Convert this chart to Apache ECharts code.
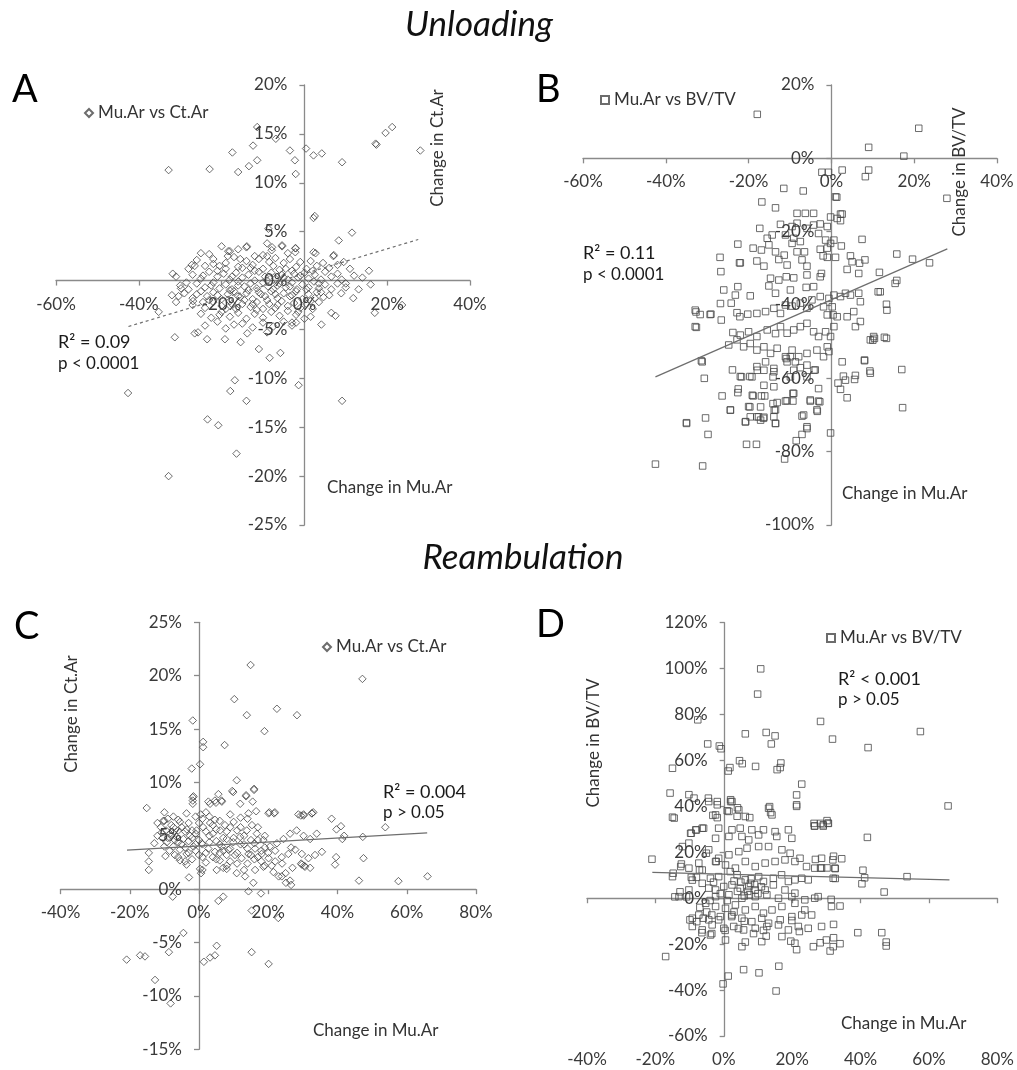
<!DOCTYPE html>
<html><head><meta charset="utf-8">
<script src="https://cdn.jsdelivr.net/npm/echarts@6/dist/echarts.min.js"></script>
<style>html,body{margin:0;padding:0;background:#fff}#c{width:1017px;height:1070px}</style>
</head><body><div id="c"></div>
<script>
// ---------- DATA (percent change) ----------
// Panel A: Unloading, Mu.Ar vs Ct.Ar
const unloadCtAr = [
[-32.8,11.3],[-22.9,11.4],[-17.4,13.1],[-16,11.1],[-13.4,11.7],[-12.4,13.8],[-11.4,12.3],[-11.4,15.7],[-6.9,14.5],[-3.5,13.3],[-2.3,12.3],[-2.1,10.9],[0.4,13.5],[2.2,12.8],[4.2,13.0],[9.1,12.1],[17.2,14.0],[17.4,13.9],[19.6,15.1],[21.2,15.7],[28,13.3],[2.2,6.4],[2.5,6.6],[11.5,4.9],[8.3,4.1],[7,2.5],[2.2,2.9],[-2.2,2.9],[-2.1,3.3],[-5.4,3.6],[-7.9,3.1],[-8.7,5.3],[-14,3.4],[-18.4,3.0],[-27.2,1.6],[-31.8,0.7],[15.6,1.0],[16,-0.4],[13.1,-0.9],[11.8,-1.8],
[-42.6,-11.5],[-32.8,-20.0],[-31.3,-5.8],[-26.5,-5.4],[-25.7,-5.3],[-23.5,-6],[-19.2,-6],[-15.4,-6.3],[-13.8,-5.4],[-11,-7],[-8.4,-7.9],[-5.8,-7.4],[-16.8,-10.2],[-17.9,-11.3],[-14,-12.3],[-23.4,-14.2],[-20.8,-14.8],[-16.4,-17.7],[-1.4,-10.7],[9.1,-12.3],[4.1,-4.5],[-2,-4.3],[-3,-4.3],[17,-3.3],[23.6,-2.5],[6.5,-3.3],[7.5,-3.6],[1.5,-3.7],[-26.9,-2.1],[-29.8,-0.8],[-30.4,-1.6],[-32,-1.5],[-31,-2.2],[-35.2,-3.2],[3,-1.2],[4.6,-1.7],[8.9,-1.3],[10,-0.3],
[-25,2.8],[-20,3.5],[-16,3.2],[-13.9,3.5],[-10,2.6],[-7.8,3.4],[-5.4,3.5],[-2.2,3.3],[-18,3.0],[2.7,2.8],[7.1,2.6],[-12,2.5],[-4,2.8],[-9,3.8],
[-28,1.2],[-26,2.1],[-24,1.5],[-22,2.2],[-21,1.0],[-19,1.8],[-17,2.4],[-15,1.3],[-14,2.0],[-12.5,1.6],[-11,2.2],[-10,1.2],[-8.5,1.9],[-7,2.3],[-6,1.1],[-5,1.8],[-3.5,2.2],[-2,1.4],[-1,1.9],[0.5,1.2],[1.5,2.0],[3,1.5],[4.5,1.8],[6,1.3],[8,1.6],[9.5,1.9],[11,1.2],[-23,2.7],[-16,1.4],[-9,2.5],[-3,1.0],
[-31,0.4],[-27,0.6],[-25,0.2],[-23,0.9],[-21,0.4],[-19.5,0.7],[-18,0.1],[-16.5,0.8],[-15,0.3],[-13.5,0.6],[-12,0.0],[-11,0.9],[-9.5,0.4],[-8,0.8],[-7,0.2],[-5.5,0.6],[-4,0.1],[-2.5,0.7],[-1.5,0.3],[0,0.8],[1,0.2],[2.5,0.6],[4,0.1],[5,0.9],[6.5,0.4],[8,0.7],[9,0.1],[12,0.5],[14,0.3],
[-30,-0.5],[-28,-0.9],[-26,-0.3],[-24,-0.7],[-22,-0.2],[-20.5,-0.8],[-19,-0.4],[-17.5,-0.9],[-16,-0.1],[-14.5,-0.6],[-13,-0.3],[-11.5,-0.8],[-10,-0.2],[-8.8,-0.6],[-7.5,-0.9],[-6,-0.3],[-4.5,-0.7],[-3,-0.2],[-1.8,-0.9],[-0.5,-0.4],[1,-0.7],[2.3,-0.1],[3.5,-0.8],[5,-0.4],[6.5,-0.9],[8,-0.3],[10,-0.7],
[-29,-1.3],[-27,-1.8],[-25,-1.1],[-23.5,-1.6],[-22,-1.2],[-20,-1.9],[-18.5,-1.4],[-17,-1.1],[-15.5,-1.7],[-14,-1.3],[-12.5,-1.9],[-11,-1.2],[-9.5,-1.6],[-8,-1.1],[-6.5,-1.8],[-5,-1.3],[-3.5,-1.6],[-2,-1.1],[-0.5,-1.9],[1,-1.4],[2.5,-1.8],[4,-1.2],[6,-1.5],[-21,-1.5],[-16,-1.6],
[-27,-2.5],[-24,-2.8],[-22,-2.2],[-20,-2.6],[-18,-2.1],[-16.5,-2.9],[-15,-2.4],[-13,-2.7],[-11.5,-2.2],[-10,-2.9],[-8.5,-2.4],[-7,-2.8],[-5.5,-2.1],[-4,-2.6],[-2.5,-2.3],[-1,-2.8],[0.5,-2.4],[2,-2.9],[3.5,-2.2],[-19,-2.9],
[-25,-3.4],[-22.5,-3.8],[-20,-3.2],[-18,-3.7],[-16,-3.3],[-14,-3.9],[-12,-3.4],[-10,-3.8],[-8,-3.2],[-6,-3.6],[-4,-3.1],[-2,-3.5],[0,-3.9],[-21,-4.2],[-17,-4.5],
[-24,-4.6],[-19,-4.9],[-15,-4.4],[-12.5,-4.8],[-10,-4.3],[-7.5,-4.7],[-5,-4.2],[-3,-4.6],[-9,-5.3],
[-26.5,1.5],[-24.5,0.5],[-22.5,-0.5],[-20.5,1.5],[-18.5,2.5],[-17.5,0.4],[-15.5,2.2],[-13.5,-1.0],[-12,1.0],[-10.5,-1.4],[-9,0.0],[-7.5,1.5],[-6.5,-0.5],[-4.5,1.2],[-3.5,-0.6],[-1,0.5],[0.5,-0.9],[2,1.0],[3.5,-0.3],[-28.5,-0.2],[-26,-1.4],[-23,-2.0],[-20.5,-3.5],[-17.5,-2.4],[-14.5,-2.0],[-11.5,-3.0],[-9,-2.0],[-6.5,-2.5],[-3,-1.5],[-1.5,-3.2],[1.5,-2.1],[-19,1.2],[-16,-0.5],[-13,1.3],[-22,1.7],[-7,-1.4],[-5,0.3],[-12.5,-2.4],[-24.5,-2.2],[-18,-1.0]
];
const unloadCtArTrend = [[-42.5,-4.7],[27.5,4.2]];

// Panel B: Unloading, Mu.Ar vs BV/TV
const unloadBvTv = [
[-17.9,12],[21.1,8.2],[9,3],[17.5,0.6],[-2.3,-3.8],[-0.7,-3.8],[2.6,-3.2],[9,-3.2],[8.2,-5],[-11.5,-8.2],[-6.8,-8.9],[1,-10.5],[1.3,-10.6],[27.9,-10.9],[-16.8,-11.9],[-13.5,-13.5],[-8.3,-15],[-6.3,-15],[-4.3,-15],[2.2,-15.2],[-0.2,-16],[-17.3,-19.1],[-22.6,-23.4],[7.4,-22.1],[15.8,-26.1],[19.6,-27.5],[23.7,-28.5],[11.6,-31.1],[15.8,-33.3],[-26.9,-27],[-26.7,-30.9],[-22.2,-28.5],
[-42.5,-83.4],[-31.1,-83.9],[-35,-72.3],[-29.8,-75.3],[-30.4,-70.8],[-20.5,-78],[-18.1,-78],[-11.3,-82],[-8.5,-77],[-7.1,-75.3],[-5.9,-73.7],[-0.2,-74.9],[17.2,-68],[17,-57.6],[13.3,-49.1],[10.4,-49.1],[10.0,-49.6],[13.3,-39.8],[15.4,-34.1],[11.3,-36.4],[8,-55.2],[5.8,-59.2],[9.3,-58],[3.8,-65.3],[2.2,-63],[1.6,-61.3],[2.9,-59.4],[-31.4,-55.2],[-30.7,-60],[-32.6,-46.1],[-32.7,-41.9],[-29.3,-42.6],[-31.7,-42.6],[-26.8,-39.6],
[-26.4,-64.8],[-22.5,-62.9],[-24.4,-68.7],[-19.7,-67.8],[-17.1,-67.8],[-19.1,-64.6],[-16.1,-64.8],[-20.8,-71.9],[-19.6,-70.5],[-17.6,-70.5],[-16.4,-70.9],[-13.5,-72.3],[-13.9,-70.5],[-13.8,-68.7],[-14.1,-66.9],[-11.1,-66.2],[-9.3,-66.2],[-9.1,-64.1],[-5.1,-66.2],[-3.1,-66.2],[-3.4,-69],[-7.1,-70.3],[-3.1,-62.8],
[-16.3,-61.9],[-19.2,-59.6],[-21.7,-59.6],[-14.1,-59.6],[-9.9,-59.6],[-9.1,-57.8],[-5.9,-59.6],[-4.2,-57.8],[-7.5,-57.1],[-10.9,-54.6],[-9.9,-54.1],[-13.9,-57.3],[-16.3,-57.8],[-17.9,-57.8],
[2.6,-15.2],[1.4,-16.4],[2.2,-17],[-12.3,-18],[-9.5,-18.6],[-8.3,-17.7],[-5.9,-19.1],[-4.3,-18.2],[-2.7,-17.9],[-1,-18.6],[-15.5,-21.8],[-14.3,-20.9],[-11.1,-20.9],[-9.1,-21.8],[-7.5,-22.7],[-9.5,-23.2],[-3.1,-20.5],[-1.4,-22.3],[-0.2,-23.2],[0.6,-22.3],[2.4,-23.9],[-1,-24.5],
[-18.9,-24.5],[-16.9,-25],[-15.1,-23.6],[-13.5,-25.5],[-12.7,-27.6],[-11.4,-26.4],[-10.7,-29.1],[-8.3,-25.5],[-6.5,-25.5],[-7.1,-27.7],[-5.9,-29.4],[-2.7,-24.8],[-2,-26.6],[-1,-27],[1,-27],[-22,-28.5],[-18,-28],[-16.3,-29.4],
[4.6,-26.6],[5,-28.2],[8.1,-27.7],[6.8,-28.6],[3.8,-30.3],[6.6,-31.4],
[-14.7,-32.7],[-12.7,-33.2],[-10.9,-32.3],[-9.1,-32.6],[-5.9,-31.8],[-2.7,-32.3],[-4.3,-35],[-2.4,-31.4],[-15.1,-34.8],[-13.5,-36.8],[-9.9,-35.9],[-6.1,-35.2],
[-19.6,-37.5],[-22.6,-35],[-23.2,-37.3],[-26,-35.9],[-24.2,-39.5],[-22.8,-42.1],[-22.1,-43.2],[-20.2,-42.5],[-18,-42.3],[-15.9,-41.8],[-13.9,-40.9],[-12.3,-42.3],[-11.1,-40],[-9.5,-40.3],[-7.5,-39.5],[-5.9,-40.9],[-4.7,-38.6],
[-2.7,-37.7],[-0.6,-38.2],[0.6,-37.3],[2.2,-37.7],[3.4,-36.8],[4.6,-37.3],[-1,-42.7],[0.4,-42.7],[1.4,-43.2],[-1.9,-40.5],[0.2,-40.5],
[6.6,-36.8],[7,-39.1],[5.4,-41.8],[3.8,-43.2],[7,-44.5],[5.8,-45.9],[9.4,-49.5],[10.2,-48.6],[12.8,-48.8],[13.4,-41.4],[11.8,-36.4],
[-32.9,-41.4],[-29.1,-42.5],[-32.9,-45.9],[-26.6,-44.1],[-23.8,-47.5],[-22,-48.2],[-20,-47.3],[-18,-48.6],[-15.5,-46.8],[-13.5,-47.8],
[-12.3,-45.9],[-10.7,-47.7],[-9.1,-46.8],[-7.5,-45.9],[-5.9,-45],[-4.3,-47.3],[-3.1,-48.6],[-1.4,-47.3],[-0.2,-48.6],[0.6,-45.9],[-1,-51.4],
[-24.8,-50.9],[-22.8,-49.5],[-21.2,-51.4],[-19.6,-50.5],[-18,-52.3],[-16.3,-51.4],[-14.7,-53.2],[-13.1,-51.8],[-11.1,-54.1],[-9.5,-52.3],[-7.9,-54.1],[-5.9,-53.2],[-3.5,-52.3],[-1.9,-54.1],[-0.6,-52.7],
[-31.2,-55.5],[-23.9,-57.7],[-22,-59.5],[-19.7,-59.5],[-18,-56.8],[-15.9,-55.5],[-13.9,-58.2],[-10.7,-55.5],[-8.7,-55.5],[-5.9,-56.4],[-3.9,-57.7],
[2.6,-55.5],[3.4,-60.5],[5.6,-60.3],[8,-55],[9.4,-58.6],
[-22.6,-63.9],[-18.9,-64.8],[-16.9,-64.8],[-13.9,-62.3],[-13.1,-66.6],[-10.7,-66.1],[-9.3,-64.1],[-5.1,-65.9],[-2.8,-66.4],
[-24.4,-68.6],[-20,-67.7],[-18,-70.5],[-16.3,-70.6],[-13.5,-68.6],[-6.7,-70],[-3.5,-68.6],[-5.9,-73.2],[-13.5,-72.3],[-17.1,-71.4],[-20.7,-71.8],[-35,-72.1]
];
const unloadBvTvTrend = [[-42.5,-59.6],[28,-24.7]];

// Panel C: Reambulation, Mu.Ar vs Ct.Ar
const reambCtAr = [
[14.9,21],[47.2,19.7],[10.2,17.8],[22.5,16.9],[13.8,16.3],[28.3,16.3],[-1.8,15.8],[18.9,14.8],[1.2,13.8],[1.2,13.3],[7.4,13.5],[-2.1,11.3],[0.3,11.7],[10.9,10.2],[-1.8,8.6],[-1.8,8.3],[5.6,8.9],[2.7,8.2],[4.6,8.3],[6.5,8.3],[9.6,9.2],[13.6,8.7],[15.9,9.3],[15.5,8.2],[-15.1,7.6],[-10,7.2],[-10,6.4],[20.3,7.2],[21.9,7.2],[29.4,6.9],[30.2,6.9],[33,7.2],[38.3,6.6],[41,5.9],
[-12.9,4.3],[-14.5,3.4],[-14.5,2.6],[-14.5,1.8],[-9.7,3.1],[39.6,3.0],[39.3,2.3],[47.5,2.9],[46.2,0.8],[57.6,0.75],[66,1.2],[53.8,5.8],[47.3,4.9],[39.7,5.6],[41.9,5.0],[41.4,4.7],[32.6,7.1],[30.4,2.2],[30.6,2.1],[29.5,2.4],[26.6,3.9],[26.6,0.4],[25.1,0.6],[23,1.2],[17.9,-0.4],[14.3,-0.2],[15.7,0.6],[7,-0.7],[5.6,-1.1],[-7.6,-0.7],[22.9,-2.7],[15.2,-2.0],[-4.5,-4.1],[-8.7,-5.9],[-20.9,-6.6],[-17,-6.2],[-15.6,-6.3],[-12.7,-8.5],[-8.2,-10.7],[1.4,-6.8],[3.2,-6.4],[4.6,-6.2],[5.1,-5.3],[15.2,-5.9],[20.1,-7.0],[0.6,1.5],[1.0,1.8],[-2.9,1.1],
[-10.3,6.4],[-7.4,6.8],[-9.5,5.5],[-7.4,5.8],[-5.5,6.3],[-3.6,7.1],[-1.6,8.7],[-1.8,8.0],[0.5,7.0],[3.2,8.0],[4.9,8.1],[6.6,8.2],[9.9,9.1],[13.6,8.8],[15.9,9.4],[11.9,8.0],[14.3,7.1],[16.5,7.3],[20.1,7.1],[21.7,7.1],[28.7,7.0],[30.2,7.0],[32.6,7.1],
[-10.8,5.3],[-8.4,5.2],[-6.5,4.9],[-4.5,4.7],[-2.6,5.0],[-0.7,5.5],[1.2,5.8],[3.2,6.2],[4.6,6.5],[6.1,5.5],[8,4.7],[9.9,4.4],[11.9,4.9],[13.8,5.5],[15.3,6.0],[16.7,5.2],[18.6,4.6],[20.5,4.0],[22.5,4.3],[24.4,4.7],[26.3,5.2],[28.2,5.5],[30.2,5.0],[32.1,4.7],[34,5.2],
[-9.3,4.4],[-7.4,4.0],[-5.5,3.7],[-3.6,3.3],[-1.6,4.0],[0.8,4.3],[2.7,3.8],[4.6,3.5],[6.6,4.0],[8.5,3.7],[10.4,3.2],[12.3,2.9],[14.3,3.3],[16.2,3.8],[18.1,3.3],[20.1,2.9],[22,2.6],[23.9,3.0],[25.8,3.3],[27.8,3.7],[29.7,3.3],[31.6,2.9],[33.5,3.2],[35.5,3.5],
[-5.5,2.7],[-3.6,2.3],[0.3,1.9],[5.1,1.8],[8,1.9],[10.9,1.5],[13.3,1.2],[16.2,1.8],[18.6,2.1],[21.5,1.6],[23.9,1.2],[26.3,0.8],[29.7,2.3],[32.1,2.0],
[-8,6.0],[-6,6.5],[-5,5.8],[-3,6.2],[-2,5.5],[-1,6.8],[0,6.2],[1,6.6],[2,7.2],[3,5.0],[4,5.2],[5,4.5],[6,4.2],[7,3.6],[8,3.2],[9,5.8],[10,6.3],[11,5.5],[12,6.7],[13,4.2],[14,3.8],[15,4.6],[16,4.3],[17,3.0],[18,2.6],[19,3.9],[-7,3.2],[-4,3.9],[-2,2.8],[1,3.0],[2,2.5],[4,3.0],[6,2.7],[8,2.2],[-9,4.8],[-6,4.4],[-3,4.5],[-1,3.6],
[-12,6.2],[-11,5.8],[-9,6.6],[-8,5.0],[-7,4.6],[-6,5.5],[-5,4.2],[-4,5.4],[-3,3.4],[-2,4.8],[-1,5.2],[0,4.6],[1,4.2],[2,5.4],[3,4.4],[4,6.0],[5,5.6],[6,3.4],[7,4.8],[8,5.4],[9,3.8],[10,4.8],[11,3.4],[12,4.2],[13,5.0],[14,2.4],[15,3.2],[16,2.8],[17,4.6],[18,3.6],[19,2.2],[20,3.4],[21,2.2],[22,3.6],[-10,4.0],[-8.5,3.6],[-6,3.0],[-4,2.6],[0,3.2],[2,3.4],[5,2.8],[7,2.0],[9,2.6],[11,2.4],[13,1.8],[-12,5.0],[-1,4.2],[3,6.8],[6,6.4],[9,7.0],[12,5.8],[14,6.6],[17,5.8],[19,5.0],[24,2.4],[25,1.5],[27,2.0],[-10.5,4.8],[-3.5,5.6],[7.5,6.0]
];
const reambCtArTrend = [[-20.8,3.65],[65.9,5.27]];

// Panel D: Reambulation, Mu.Ar vs BV/TV
const reambBvTv = [
[10.8,99.9],[9.9,88.9],[-7.6,77.7],[28.3,77],[57.5,72.6],[31.8,69.3],[42.2,65.6],[6.3,71.6],[12.4,72.2],[15,70.7],[13.9,67.2],[-4.7,67.2],[-1.3,66.3],[-0.8,65.1],[-15,56.6],[4.6,59.9],[5.4,58.6],[1.8,56.9],[1.3,55.4],[9.3,57.4],[16.7,58.9],[16.5,56.9],[15.6,56],[22.8,49.7],
[-15.7,45.8],[-10.2,45.1],[-8.7,43.6],[-4.5,43.6],[-1.9,42.1],[2,42.9],[2,42.1],[4,39.4],[3.9,35.7],[7.6,35.1],[13.4,39.9],[13.7,37.3],[21.3,45],[21.3,40.7],[26.4,32.6],[28.3,32.6],[30.2,33.8],[65.6,40.2],[-15,35.3],[-3.2,36.1],[-1.9,35.1],[1,38.1],
[-21,17],[-17,-25.4],[-0.2,-37.3],[1.3,-33.9],[5.8,-31.1],[10.3,-32.5],[16.1,-29.6],[15.3,-40.4],[42,26.5],[46.9,2.7],[39.2,-15],[46.2,-15],[47.5,-19.1],[47.5,-20.8],[53.6,9.4],[40.7,12.2],[41.2,8.9],[40.4,6.3],[32.6,8.6],
[28.2,-19.4],[31.1,-23],[32.1,-17.2],[34,-19.8],[32.1,-11.4],[31.4,-0.5],[21.3,-22.4],[19.6,-18.7],[22.1,-14.5],[19.9,-9.7],[6.3,-19.1],[12.4,-16.5],
[-3.5,-15.4],[-6.4,-15],[0.4,-14],[4.3,-13.2],[8.7,-15.4],[11.6,-14],[-9.9,-9.4],[-7.9,-10.2],[-6,-8.7],[-3.5,-7.3],[-1.5,-9.4],[2.3,-8],
[-12.8,2.8],[-14.3,0.6],[-10.9,0.6],[-14.8,10.9],[-12.4,14.9],[-9.5,9.1],[-8,9.1],[-9.5,28.3],[-8,29.7],[-5.9,30.5],[-7.1,12.3],[-5.1,19.6],[-2.2,16],
[26.5,31.4],[29.1,31.4],[30.6,32.6],[32.1,18.3],[34.5,17.2],[26.8,16.9],[28.3,13.2],[30.2,13.2],[32.6,12.9],[34,-3.4],
[-4.4,42.1],[-1.9,40.7],[2.4,42.1],[1.5,37.8],[4.4,38.5],[6.3,35.6],[13.1,39.2],[14.1,36.3],[21.3,40],[-14.5,34.9],[-2.4,36.3],
[-8.2,29.8],[-6.3,30.5],[-9.7,28.3],[-1.5,30.5],[2.4,29.8],[4.8,30.5],[8.2,29.8],[11.6,29.8],[15,29],[18.9,29.8],[26.6,31.5],[29.1,32],[30.5,32.7],[-10.2,24],[-2.4,26.1],[1.5,26.9],[5.3,26.9],[7.3,25.4],[10.2,27.6],[15.5,26.9],[19.9,26.1],
[-12.1,22.5],[-4.4,21.1],[-2.4,16],[-1.5,17.4],[1.5,18.9],[4.4,20.3],[6.8,21.8],[10.2,22.5],[13.1,22.5],[17,21.1],[19.4,19.6],[22.3,17.4],[-7.3,15.3],[-10.2,13.1],[-6.3,12.3],[0.5,14.5],[3.4,13.1],[6.3,16],[9.2,13.8],[12.1,15.3],[15,16],[17.9,16.7],[20.8,16],[24.2,13.8],[28.6,17.4],[31.9,16.7],[26.6,13.1],[28.6,13.1],[32.5,13.1],[-12.6,13.8],[-15,9.4],[-9.2,7.9],
[-3.9,8.7],[-1.5,9.4],[1.9,11.6],[3.9,10.2],[6.3,8],[7.8,6.5],[10.2,9.4],[11.6,7.3],[14.5,8.7],[16.9,10.2],[18.9,7.3],[20.8,8],[22.8,8.7],[24.7,8],[32,8.7],[-6.3,6.5],[-4.4,4.4],[-2.4,3.6],[0,5.1],[2.4,5.8],[4.8,4.4],[7.3,5.1],[9.2,3.6],[12.1,3.6],[14.5,5.8],[17.9,3.6],[20.8,2.2],[-2.4,0.7],[1.5,1.5],[5.3,0],[9.2,0.7],[12.6,1.5],[16,0],[19.9,0.7],[23.7,-0.7],[27.6,0.7],[-10.2,3.6],[-13.1,0.7],
[-5.3,-2.2],[-2.4,-3.6],[0.5,-4.4],[3.4,-2.9],[6.3,-5.1],[9.2,-3.6],[11.6,-6.5],[14.1,-5.1],[17,-3.6],[20.8,-2.2],[23.7,-5.1],[26.6,0],[31.5,-3.6],[-9.2,-8.7],[-7.3,-7.3],[-4.4,-9.4],[-1,-8],[2.4,-7.3],[5.3,-8.7],[8.2,-10.2],[11.1,-8.7],[13.1,-10.9],[16.5,-9.4],[19.9,-8],[22.8,-7.3],[25.7,-7.3],
[-9.2,-12.3],[-6.3,-13.8],[-3.4,-11.6],[0,-13.1],[2.9,-12.3],[5.8,-13.8],[9.2,-13.1],[12.6,-12.3],[16,-11.6],[18.9,-13.8],[21.8,-12.3],[24.7,-13.1],[28.6,-12.3],
[-3.9,-16],[0.5,-18.2],[5.3,-21.1],[11.1,-18.9],[17,-16.7],[20.8,-19.6],[26.2,-21.1],[30,-18.2],[32,-21.1],
[5,7],[7,3],[8,8.5],[9,6],[10,2],[11,5],[6,1],[4,3],[3,7.5],[7.5,1.5],[-1,2],[-3,7],[1,-1],[3,-6],[6,-10],[-5,-6],[-7,-4],[-4,-1]
];
const reambBvTvTrend = [[-20.9,11.3],[66,8]];

// axis ranges [min, max, interval]
const xRangeUnload = [-60, 40, 20];
const yRangeA = [-25, 20, 5];
const yRangeB = [-100, 20, 20];
const xRangeReamb = [-40, 80, 20];
const yRangeC = [-15, 25, 5];
const yRangeD = [-60, 120, 20];

const seriesNameCt = 'Mu.Ar vs Ct.Ar';
const seriesNameBv = 'Mu.Ar vs BV/TV';

// ---------- STYLE / LAYOUT ----------
const FONT = 'Lato, "Open Sans", "DejaVu Sans", sans-serif';
const AXC = '#8a8a8a', LBL = '#3a3a3a', TXT = '#1a1a1a';
const pct = v => v + '%';

const grids = [
  { left: 56, top: 85, width: 414, height: 440 },
  { left: 583, top: 85, width: 414, height: 440 },
  { left: 60.5, top: 622.3, width: 415.5, height: 427 },
  { left: 587, top: 622.7, width: 413, height: 413.3 }
];
// shift so that each axis (line, ticks and labels) crosses the other at zero
const zeroShift = (len, r) => -len * (0 - r[0]) / (r[1] - r[0]);

function valAxis(gridIndex, r, extra) {
  return Object.assign({
    type: 'value', gridIndex, min: r[0], max: r[1], interval: r[2],
    axisLine: { show: true, onZero: false, lineStyle: { color: AXC, width: 1.3 } },
    axisTick: { show: true, length: 5, lineStyle: { color: AXC, width: 1.3 } },
    axisLabel: { formatter: pct, color: LBL, fontFamily: FONT, fontSize: 17, margin: 15 },
    splitLine: { show: false }
  }, extra || {});
}
function xAx(g, r, yr, extra) {
  return valAxis(g, r, Object.assign({ position: 'bottom',
    offset: zeroShift(grids[g].height, yr) }, extra || {}));
}
function yAx(g, r, xr) {
  return valAxis(g, r, { position: 'left', offset: zeroShift(grids[g].width, xr),
    axisLabel: { formatter: pct, color: LBL, fontFamily: FONT, fontSize: 17, margin: 17 } });
}

const xAxes = [
  xAx(0, xRangeUnload, yRangeA),
  xAx(1, xRangeUnload, yRangeB),
  xAx(2, xRangeReamb, yRangeC),
  xAx(3, xRangeReamb, yRangeD, { axisLabel: { show: false } }),
  valAxis(3, xRangeReamb, {
    position: 'bottom', offset: 0,
    axisLine: { show: false, onZero: false },
    axisTick: { show: false }
  })
];
const yAxes = [
  yAx(0, yRangeA, xRangeUnload),
  yAx(1, yRangeB, xRangeUnload),
  yAx(2, yRangeC, xRangeReamb),
  yAx(3, yRangeD, xRangeReamb)
];

const markerStyle = { color: 'rgba(0,0,0,0)', borderColor: '#474747', borderWidth: 1 };
function scatter(name, data, xi, yi, sym, size) {
  return { type: 'scatter', name, data, xAxisIndex: xi, yAxisIndex: yi, symbol: sym, symbolSize: size,
           itemStyle: markerStyle, z: 3 };
}
function trend(data, xi, yi, dashed) {
  return { type: 'line', data, xAxisIndex: xi, yAxisIndex: yi, symbol: 'none', silent: true,
           lineStyle: { color: '#6e6e6e', width: 1.2, type: dashed ? [3, 3] : 'solid' }, z: 4 };
}

function legendAt(name, left, top) {
  return { data: [name], left, top, padding: 0, itemWidth: 8, itemHeight: 8, itemGap: 0,
           textStyle: { fontFamily: FONT, fontSize: 17, color: '#333', lineHeight: 20 } };
}

function txt(x, y, text, opts) {
  opts = opts || {};
  return { type: 'text', x, y, rotation: opts.rot || 0, z: 10,
    style: { text, fill: opts.fill || TXT, fontFamily: FONT, fontSize: opts.size || 17,
             fontStyle: opts.italic ? 'italic' : 'normal', fontWeight: opts.weight || 'normal',
             align: opts.align || 'left', verticalAlign: 'middle' } };
}

const option = {
  animation: false,
  backgroundColor: '#fff',
  grid: grids,
  xAxis: xAxes,
  yAxis: yAxes,
  legend: [
    legendAt(seriesNameCt, 84, 103),
    legendAt(seriesNameBv, 600, 90),
    legendAt(seriesNameCt, 322, 637),
    legendAt(seriesNameBv, 826, 628)
  ],
  series: [
    scatter(seriesNameCt, unloadCtAr, 0, 0, 'diamond', 7.5),
    trend(unloadCtArTrend, 0, 0, true),
    scatter(seriesNameBv, unloadBvTv, 1, 1, 'rect', 6.5),
    trend(unloadBvTvTrend, 1, 1, false),
    scatter(seriesNameCt, reambCtAr, 2, 2, 'diamond', 7.5),
    trend(reambCtArTrend, 2, 2, false),
    scatter(seriesNameBv, reambBvTv, 3, 3, 'rect', 6.5),
    trend(reambBvTvTrend, 3, 3, false)
  ],
  graphic: [
    txt(479, 25, 'Unloading', { size: 35, italic: true, align: 'center', fill: '#111' }),
    txt(523, 558, 'Reambulation', { size: 35, italic: true, align: 'center', fill: '#111' }),
    txt(12, 90, 'A', { size: 38, fill: '#000' }),
    txt(536, 90, 'B', { size: 38, fill: '#000' }),
    txt(14, 627, 'C', { size: 38, fill: '#000' }),
    txt(536, 625, 'D', { size: 38, fill: '#000' }),
    // axis names
    txt(438, 148, 'Change in Ct.Ar', { rot: Math.PI / 2, align: 'center', fill: '#333' }),
    txt(327, 488, 'Change in Mu.Ar', { fill: '#333' }),
    txt(960, 172, 'Change in BV/TV', { rot: Math.PI / 2, align: 'center', fill: '#333' }),
    txt(842, 494, 'Change in Mu.Ar', { fill: '#333' }),
    txt(72, 714, 'Change in Ct.Ar', { rot: Math.PI / 2, align: 'center', fill: '#333' }),
    txt(313, 1031, 'Change in Mu.Ar', { fill: '#333' }),
    txt(594, 743, 'Change in BV/TV', { rot: Math.PI / 2, align: 'center', fill: '#333' }),
    txt(841, 1024, 'Change in Mu.Ar', { fill: '#333' }),
    // statistics
    txt(58, 342, 'R² = 0.09', { size: 18 }),
    txt(58, 364, 'p < 0.0001'),
    txt(583, 253, 'R² = 0.11', { size: 18 }),
    txt(583, 275, 'p < 0.0001'),
    txt(383, 792, 'R² = 0.004', { size: 18 }),
    txt(383, 813, 'p > 0.05'),
    txt(838, 679, 'R² < 0.001', { size: 18 }),
    txt(838, 700, 'p > 0.05')
  ]
};

const chart = echarts.init(document.getElementById('c'), null, { renderer: 'canvas' });
chart.setOption(option);
</script>
</body></html>
